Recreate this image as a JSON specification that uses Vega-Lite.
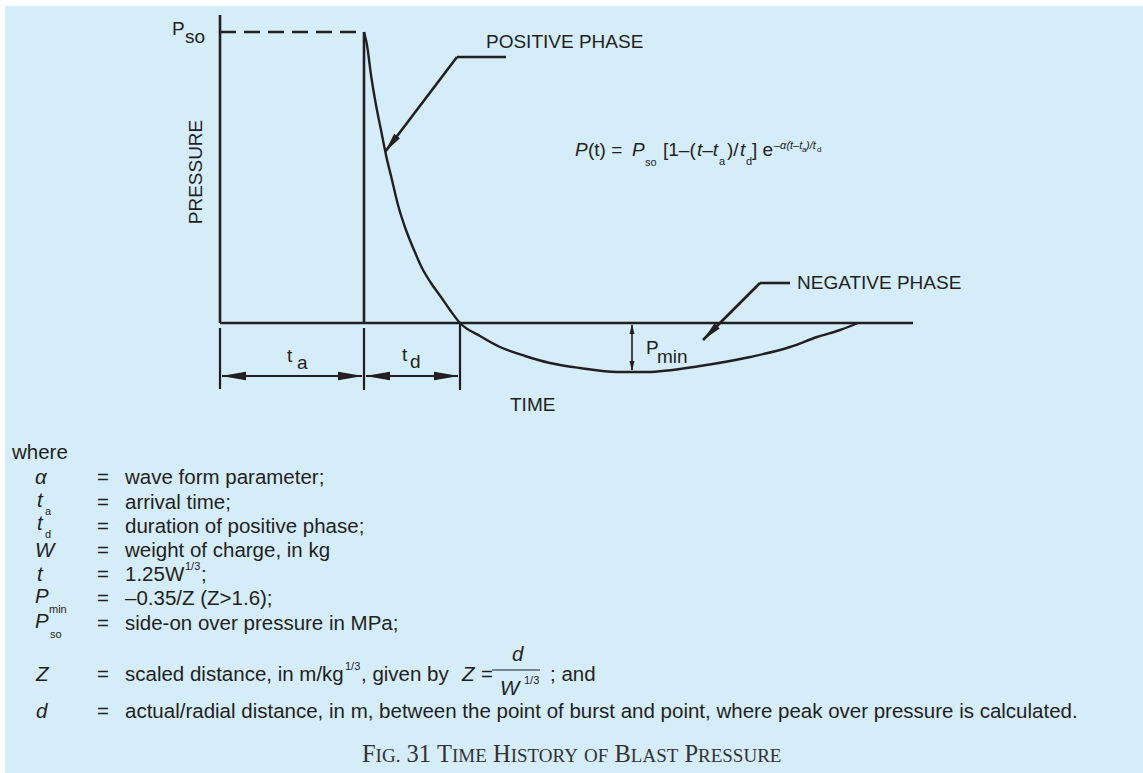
{
"$schema":"https://vega.github.io/schema/vega-lite/v6.json",
"width":1143,"height":773,
"autosize":{"type":"fit","contains":"padding"},
"padding":0,
"background":"#ffffff",
"config":{"view":{"stroke":null},"text":{"font":"Liberation Sans","color":"#231F20"}},
"datasets":{
"bg":[{"x":5,"y":6,"x2":1143,"y2":773}],
"segments":[
{"kind":"solid","x":220,"y":15,"x2":220,"y2":323},
{"kind":"solid","x":220,"y":323,"x2":913,"y2":323},
{"kind":"solid","x":364,"y":32,"x2":364,"y2":323},
{"kind":"solid","x":385,"y":152,"x2":457,"y2":57},
{"kind":"solid","x":457,"y":57,"x2":506,"y2":57},
{"kind":"solid","x":703,"y":340,"x2":760,"y2":283},
{"kind":"solid","x":760,"y":283,"x2":790,"y2":283},
{"kind":"dim","x":220,"y":328,"x2":220,"y2":389},
{"kind":"dim","x":364,"y":328,"x2":364,"y2":390},
{"kind":"dim","x":460,"y":323,"x2":460,"y2":390},
{"kind":"dim","x":222,"y":376,"x2":362,"y2":376},
{"kind":"dim","x":366,"y":376,"x2":458,"y2":376},
{"kind":"thin","x":632,"y":325,"x2":632,"y2":370},
{"kind":"dash","x":220,"y":32,"x2":364,"y2":32},
{"kind":"frac","x":492,"y":670,"x2":540,"y2":670}
],
"curve":[
{"o":1,"x":364,"y":32},{"o":2,"x":367,"y":45},{"o":3,"x":371,"y":75},{"o":4,"x":376,"y":105},
{"o":5,"x":381,"y":130},{"o":6,"x":386,"y":155},{"o":7,"x":392,"y":180},{"o":8,"x":398,"y":205},
{"o":9,"x":406,"y":230},{"o":10,"x":414,"y":250},{"o":11,"x":422,"y":268},{"o":12,"x":431,"y":283},
{"o":13,"x":441,"y":297},{"o":14,"x":450,"y":310},{"o":15,"x":460,"y":323},{"o":16,"x":480,"y":336},
{"o":17,"x":500,"y":347},{"o":18,"x":525,"y":356},{"o":19,"x":550,"y":363},{"o":20,"x":580,"y":368},
{"o":21,"x":617,"y":372},{"o":22,"x":647,"y":372},{"o":23,"x":700,"y":366},{"o":24,"x":750,"y":357},
{"o":25,"x":790,"y":347},{"o":26,"x":817,"y":337},{"o":27,"x":840,"y":330},{"o":28,"x":858,"y":323}
],
"arrows":[
{"kind":"dimL","x":221,"y":376},{"kind":"dimL","x":365,"y":376},
{"kind":"dimR","x":363,"y":376},{"kind":"dimR","x":459,"y":376},
{"kind":"pUp","x":632,"y":324},{"kind":"pDown","x":632,"y":371},
{"kind":"leadPos","x":385,"y":152},{"kind":"leadNeg","x":703,"y":340}
],
"texts":[
{"kind":"lab","t":"P","x":172,"y":29},
{"kind":"lab","t":"POSITIVE PHASE","x":486,"y":42},
{"kind":"lab","t":"NEGATIVE PHASE","x":797,"y":283},
{"kind":"lab","t":"t","x":287,"y":356},
{"kind":"lab","t":"t","x":402,"y":355},
{"kind":"lab","t":"P","x":646,"y":348},
{"kind":"lab","t":"TIME","x":510,"y":405},
{"kind":"labsub","t":"so","x":185,"y":37},
{"kind":"labsub","t":"a","x":297,"y":363},
{"kind":"labsub","t":"d","x":410,"y":362},
{"kind":"labsub","t":"min","x":657,"y":357},
{"kind":"pressure","t":"PRESSURE","x":196,"y":172},
{"kind":"freg","t":"(t) =","x":588,"y":150},
{"kind":"freg","t":"[1–(","x":663,"y":150},
{"kind":"freg","t":")/","x":727,"y":150},
{"kind":"freg","t":"] e","x":752,"y":150},
{"kind":"fit","t":"P","x":575,"y":150},
{"kind":"fit","t":"P","x":632,"y":150},
{"kind":"fit","t":"t–t","x":697,"y":150},
{"kind":"fit","t":"t","x":740,"y":150},
{"kind":"fsub","t":"so","x":645,"y":163},
{"kind":"fsub","t":"a","x":719,"y":162},
{"kind":"fsub","t":"d","x":746,"y":162},
{"kind":"fsup","t":"–α(t–t","x":774,"y":146},
{"kind":"fsup","t":")/t","x":806,"y":146},
{"kind":"fss","t":"a","x":802,"y":150},
{"kind":"fss","t":"d","x":817,"y":150},
{"kind":"lreg","t":"where","x":12,"y":453},
{"kind":"lreg","t":"=","x":97,"y":478},
{"kind":"lreg","t":"=","x":97,"y":503},
{"kind":"lreg","t":"=","x":97,"y":527},
{"kind":"lreg","t":"=","x":97,"y":551},
{"kind":"lreg","t":"=","x":97,"y":575},
{"kind":"lreg","t":"=","x":97,"y":599},
{"kind":"lreg","t":"=","x":97,"y":624},
{"kind":"lreg","t":"=","x":97,"y":675},
{"kind":"lreg","t":"=","x":97,"y":712},
{"kind":"lreg","t":"wave form parameter;","x":125,"y":478},
{"kind":"lreg","t":"arrival time;","x":125,"y":503},
{"kind":"lreg","t":"duration of positive phase;","x":125,"y":527},
{"kind":"lreg","t":"weight of charge, in kg","x":125,"y":551},
{"kind":"lreg","t":"1.25W","x":125,"y":575},
{"kind":"lreg","t":";","x":201,"y":575},
{"kind":"lreg","t":"–0.35/Z (Z>1.6);","x":125,"y":599},
{"kind":"lreg","t":"side-on over pressure in MPa;","x":125,"y":624},
{"kind":"lreg","t":"scaled distance, in m/kg","x":125,"y":675},
{"kind":"lreg","t":", given by","x":361,"y":675},
{"kind":"lreg","t":"=","x":481,"y":675},
{"kind":"lreg","t":"; and","x":550,"y":675},
{"kind":"lreg","t":"actual/radial distance, in m, between the point of burst and point, where peak over pressure is calculated.","x":125,"y":712},
{"kind":"lit","t":"α","x":35,"y":478},
{"kind":"lit","t":"t","x":37,"y":501},
{"kind":"lit","t":"t","x":37,"y":524},
{"kind":"lit","t":"W","x":35,"y":551},
{"kind":"lit","t":"t","x":37,"y":575},
{"kind":"lit","t":"P","x":35,"y":597},
{"kind":"lit","t":"P","x":35,"y":622},
{"kind":"lit","t":"Z","x":36,"y":675},
{"kind":"lit","t":"d","x":36,"y":712},
{"kind":"lit","t":"Z","x":462,"y":675},
{"kind":"lit","t":"d","x":512,"y":655},
{"kind":"lit","t":"W","x":500,"y":689},
{"kind":"lsub","t":"a","x":45,"y":512},
{"kind":"lsub","t":"d","x":45,"y":535},
{"kind":"lsub","t":"min","x":49,"y":610},
{"kind":"lsub","t":"so","x":50,"y":635},
{"kind":"lsup","t":"1/3","x":185,"y":567},
{"kind":"lsup","t":"1/3","x":345,"y":667},
{"kind":"lsup","t":"1/3","x":524,"y":681},
{"kind":"capB","t":"F","x":362,"y":762},
{"kind":"capB","t":"31","x":406.5,"y":762},
{"kind":"capB","t":"T","x":437,"y":762},
{"kind":"capB","t":"H","x":493,"y":762},
{"kind":"capB","t":"B","x":614.4,"y":762},
{"kind":"capB","t":"P","x":684.4,"y":762},
{"kind":"capS","t":"IG.","x":375.6,"y":762},
{"kind":"capS","t":"IME","x":452,"y":762},
{"kind":"capS","t":"ISTORY","x":510.7,"y":762},
{"kind":"capS","t":"OF","x":584,"y":762},
{"kind":"capS","t":"LAST","x":630.8,"y":762},
{"kind":"capS","t":"RESSURE","x":698,"y":762}
]
},
"encoding":{
"x":{"field":"x","type":"quantitative","scale":{"domain":[0,1143],"nice":false,"zero":false},"axis":null},
"y":{"field":"y","type":"quantitative","scale":{"domain":[0,773],"nice":false,"zero":false,"reverse":true},"axis":null}
},
"layer":[
{"data":{"name":"bg"},"mark":{"type":"rect","fill":"#D5ECF9"},"encoding":{"x2":{"field":"x2"},"y2":{"field":"y2"}}},
{"data":{"name":"segments"},"transform":[{"filter":"datum.kind=='solid'"}],"mark":{"type":"rule","color":"#231F20","strokeWidth":2.6},"encoding":{"x2":{"field":"x2"},"y2":{"field":"y2"}}},
{"data":{"name":"segments"},"transform":[{"filter":"datum.kind=='dim'"}],"mark":{"type":"rule","color":"#231F20","strokeWidth":2.2},"encoding":{"x2":{"field":"x2"},"y2":{"field":"y2"}}},
{"data":{"name":"segments"},"transform":[{"filter":"datum.kind=='thin'"}],"mark":{"type":"rule","color":"#231F20","strokeWidth":1.6},"encoding":{"x2":{"field":"x2"},"y2":{"field":"y2"}}},
{"data":{"name":"segments"},"transform":[{"filter":"datum.kind=='frac'"}],"mark":{"type":"rule","color":"#231F20","strokeWidth":1.2},"encoding":{"x2":{"field":"x2"},"y2":{"field":"y2"}}},
{"data":{"name":"segments"},"transform":[{"filter":"datum.kind=='dash'"}],"mark":{"type":"rule","color":"#231F20","strokeWidth":2.4,"strokeDash":[16,8]},"encoding":{"x2":{"field":"x2"},"y2":{"field":"y2"}}},
{"data":{"name":"curve"},"mark":{"type":"line","color":"#231F20","strokeWidth":2.4,"interpolate":"monotone"},"encoding":{"order":{"field":"o","type":"quantitative"}}},
{"data":{"name":"arrows"},"transform":[{"filter":"datum.kind=='dimR'"}],"mark":{"type":"point","shape":"M0,0L-1,-0.17L-1,0.17Z","size":2500,"filled":true,"color":"#231F20","opacity":1,"strokeWidth":0}},
{"data":{"name":"arrows"},"transform":[{"filter":"datum.kind=='dimL'"}],"mark":{"type":"point","shape":"M0,0L-1,-0.17L-1,0.17Z","size":2500,"angle":180,"filled":true,"color":"#231F20","opacity":1,"strokeWidth":0}},
{"data":{"name":"arrows"},"transform":[{"filter":"datum.kind=='pUp'"}],"mark":{"type":"point","shape":"M0,0L-1,-0.25L-1,0.25Z","size":400,"angle":270,"filled":true,"color":"#231F20","opacity":1,"strokeWidth":0}},
{"data":{"name":"arrows"},"transform":[{"filter":"datum.kind=='pDown'"}],"mark":{"type":"point","shape":"M0,0L-1,-0.25L-1,0.25Z","size":400,"angle":90,"filled":true,"color":"#231F20","opacity":1,"strokeWidth":0}},
{"data":{"name":"arrows"},"transform":[{"filter":"datum.kind=='leadPos'"}],"mark":{"type":"point","shape":"M0,0L-1,-0.18L-1,0.18Z","size":1600,"angle":127,"filled":true,"color":"#231F20","opacity":1,"strokeWidth":0}},
{"data":{"name":"arrows"},"transform":[{"filter":"datum.kind=='leadNeg'"}],"mark":{"type":"point","shape":"M0,0L-1,-0.18L-1,0.18Z","size":1600,"angle":135,"filled":true,"color":"#231F20","opacity":1,"strokeWidth":0}},
{"data":{"name":"texts"},"transform":[{"filter":"datum.kind=='lab' || datum.kind=='labsub'"}],"mark":{"type":"text","align":"left","baseline":"middle","fontSize":19},"encoding":{"text":{"field":"t"}}},
{"data":{"name":"texts"},"transform":[{"filter":"datum.kind=='pressure'"}],"mark":{"type":"text","align":"center","baseline":"middle","fontSize":19,"angle":270},"encoding":{"text":{"field":"t"}}},
{"data":{"name":"texts"},"transform":[{"filter":"datum.kind=='freg'"}],"mark":{"type":"text","align":"left","baseline":"middle","fontSize":19},"encoding":{"text":{"field":"t"}}},
{"data":{"name":"texts"},"transform":[{"filter":"datum.kind=='fit'"}],"mark":{"type":"text","align":"left","baseline":"middle","fontSize":19,"fontStyle":"italic"},"encoding":{"text":{"field":"t"}}},
{"data":{"name":"texts"},"transform":[{"filter":"datum.kind=='fsub'"}],"mark":{"type":"text","align":"left","baseline":"middle","fontSize":11},"encoding":{"text":{"field":"t"}}},
{"data":{"name":"texts"},"transform":[{"filter":"datum.kind=='fsup'"}],"mark":{"type":"text","align":"left","baseline":"middle","fontSize":11,"fontStyle":"italic"},"encoding":{"text":{"field":"t"}}},
{"data":{"name":"texts"},"transform":[{"filter":"datum.kind=='fss'"}],"mark":{"type":"text","align":"left","baseline":"middle","fontSize":8},"encoding":{"text":{"field":"t"}}},
{"data":{"name":"texts"},"transform":[{"filter":"datum.kind=='lreg'"}],"mark":{"type":"text","align":"left","baseline":"middle","fontSize":20.5},"encoding":{"text":{"field":"t"}}},
{"data":{"name":"texts"},"transform":[{"filter":"datum.kind=='lit'"}],"mark":{"type":"text","align":"left","baseline":"middle","fontSize":20.5,"fontStyle":"italic"},"encoding":{"text":{"field":"t"}}},
{"data":{"name":"texts"},"transform":[{"filter":"datum.kind=='lsub'"}],"mark":{"type":"text","align":"left","baseline":"middle","fontSize":11},"encoding":{"text":{"field":"t"}}},
{"data":{"name":"texts"},"transform":[{"filter":"datum.kind=='lsup'"}],"mark":{"type":"text","align":"left","baseline":"middle","fontSize":11},"encoding":{"text":{"field":"t"}}},
{"data":{"name":"texts"},"transform":[{"filter":"datum.kind=='capB'"}],"mark":{"type":"text","align":"left","baseline":"alphabetic","fontSize":24.5,"font":"Liberation Serif","color":"#333333"},"encoding":{"text":{"field":"t"}}},
{"data":{"name":"texts"},"transform":[{"filter":"datum.kind=='capS'"}],"mark":{"type":"text","align":"left","baseline":"alphabetic","fontSize":19,"font":"Liberation Serif","color":"#333333"},"encoding":{"text":{"field":"t"}}}
]
}
